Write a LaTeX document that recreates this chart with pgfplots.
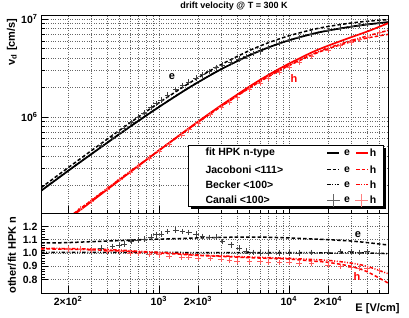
\documentclass[border=0pt]{standalone}
\usepackage{pgfplots}
\pgfplotsset{compat=1.18}
\usepackage{fontspec}
\setmainfont{Liberation Sans}
\tikzset{
  dashJ/.style={dash pattern=on 3.5pt off 2.2pt},
  dashB/.style={dash pattern=on 3.5pt off 1.6pt on 1pt off 1.6pt on 1pt off 1.6pt},
}
\pgfplotsset{
  canE/.style={only marks, mark=+, mark size=2.8pt, black!75, mark options={line width=0.55pt}},
  canH/.style={only marks, mark=+, mark size=2.8pt, red!65, mark options={line width=0.55pt}},
}
\begin{document}
\bfseries
\begin{tikzpicture}[x=1pt,y=1pt]
\useasboundingbox (0,0) rectangle (409,317);
% ---------------- top panel
\begin{axis}[scale only axis, width=347pt, height=198pt, at={(41pt,104pt)}, anchor=south west,
  xmode=log, xmin=124, xmax=58000, ymode=log, ymin=1.04e5, ymax=1.1e7,
  tick align=inside, tick pos=left,
  axis line style={black, line width=0.6pt},
  grid style={black!60, dotted, line width=0.45pt},
  major tick length=7pt, minor tick length=3.5pt,
  tick style={black, line width=0.45pt},
  ticklabel style={font=\bfseries\fontsize{10.5}{11}\selectfont},
  xtick={200,1000,2000,10000,20000}, xticklabels={},
  minor xtick={300,400,500,600,700,800,900,3000,4000,5000,6000,7000,8000,9000,30000,40000,50000},
  ytick={1e6,1e7}, yticklabels={10\textsuperscript{6},10\textsuperscript{7}},
  minor ytick={2e5,3e5,4e5,5e5,6e5,7e5,8e5,9e5,2e6,3e6,4e6,5e6,6e6,7e6,8e6,9e6},
  xmajorgrids, xminorgrids, ymajorgrids, yminorgrids]
% Canali e
\addplot[canE] coordinates {(360,5.0842e5)(440,6.2243e5)(495,7.0045e5)(540,7.6804e5)(610,8.7375e5)(690,9.8963e5)(770,1.09769e6)(870,1.24199e6)(950,1.36598e6)(1040,1.48902e6)(1170,1.67386e6)(1350,1.91236e6)(1520,2.09531e6)(1700,2.27865e6)(1930,2.50417e6)(2170,2.69496e6)(2430,2.91392e6)(2750,3.20445e6)(3100,3.39412e6)(3600,3.65555e6)(4150,3.91600e6)(4700,4.15675e6)(5300,4.42552e6)(6000,4.71465e6)(7000,5.13229e6)(8500,5.61537e6)(10000,6.05373e6)(12000,6.47067e6)(15000,7.05581e6)(20000,7.66285e6)(25000,8.09239e6)(30000,8.42775e6)(35000,8.62715e6)(40000,8.88594e6)(50000,9.09913e6)};
% Canali h
\addplot[canH] coordinates {(200,92538)(250,115731)(300,137560)(400,183025)(500,228137)(600,271350)(700,315158)(850,380655)(1000,446380)(1200,529490)(1500,654719)(1700,738100)(2000,859890)(2500,1056300)(3000,1245986)(3500,1413250)(4000,1582020)(5000,1920821)(6000,2221560)(7000,2508216)(8500,2884700)(10000,3241382)(12000,3639900)(15000,4187859)(20000,4850681)(25000,5350500)(30000,5785791)(35000,6198400)(40000,6584565)(50000,7285800)};
% Becker e
\addplot[black, line width=1.5pt, dashB, smooth] coordinates {(124,1.75908e5)(150,2.12087e5)(200,2.80934e5)(300,4.14634e5)(500,6.72366e5)(700,9.17111e5)(1000,1.26430e6)(1500,1.79015e6)(2000,2.25972e6)(3000,3.06557e6)(5000,4.27663e6)(7000,5.14769e6)(10000,6.07189e6)(15000,7.03475e6)(20000,7.62473e6)(30000,8.34431e6)(40000,8.79796e6)(58000,9.25839e6)};
% Becker h
\addplot[red, line width=1.5pt, dashB, smooth] coordinates {(124,57630)(150,69678)(200,92808)(300,138909)(500,230847)(700,320860)(1000,454520)(1500,671593)(2000,879535)(3000,1275994)(5000,1988470)(7000,2597026)(10000,3353154)(15000,4333524)(20000,5037246)(30000,6013322)(40000,6696167)(58000,7655744)};
% Jacoboni e
\addplot[black, line width=1.5pt, dashJ, smooth] coordinates {(124,1.8816e5)(150,2.2707e5)(200,3.0134e5)(300,4.4764e5)(500,7.3124e5)(700,1.00289e6)(1000,1.38884e6)(1500,1.97835e6)(2000,2.50755e6)(3000,3.41400e6)(5000,4.7755e6)(7000,5.7379e6)(10000,6.7378e6)(15000,7.7649e6)(20000,8.3872e6)(30000,9.0953e6)(40000,9.4842e6)(58000,9.8632e6)};
% Jacoboni h
\addplot[red, line width=1.5pt, dashJ, smooth] coordinates {(124,57351)(150,69342)(200,92359)(300,138235)(500,229266)(700,319276)(1000,452259)(1500,668218)(2000,876856)(3000,1272080)(5000,1978220)(7000,2583570)(10000,3335690)(15000,4278900)(20000,4957290)(30000,5850800)(40000,6398560)(58000,6976240)};
% fit HPK e
\addplot[black, line width=1.7pt, smooth] coordinates {(124,1.75033e5)(150,2.11032e5)(200,2.79536e5)(300,4.12571e5)(500,6.69021e5)(700,9.12548e5)(1000,1.25801e6)(1500,1.78390e6)(2000,2.25296e6)(3000,3.05640e6)(5000,4.26384e6)(7000,5.13229e6)(10000,6.05373e6)(15000,7.02071e6)(20000,7.62473e6)(30000,8.34431e6)(40000,8.79796e6)(58000,9.30491e6)};
% fit HPK h
\addplot[red, line width=1.7pt, smooth] coordinates {(124,55681)(150,67322)(200,89843)(300,134863)(500,225878)(700,316742)(1000,452259)(1500,674968)(2000,892929)(3000,1304697)(5000,2049969)(7000,2691219)(10000,3492869)(15000,4552021)(20000,5330419)(30000,6500889)(40000,7440186)(58000,9060052)};
\end{axis}
% ---------------- bottom panel
\begin{axis}[scale only axis, width=347pt, height=80pt, at={(41pt,24pt)}, anchor=south west,
  xmode=log, xmin=124, xmax=58000, ymin=0.7, ymax=1.3,
  tick align=inside, tick pos=left,
  axis line style={black, line width=0.6pt},
  grid style={black!60, dotted, line width=0.45pt},
  major tick length=7pt, minor tick length=3.5pt,
  tick style={black, line width=0.45pt},
  ticklabel style={font=\bfseries\fontsize{10.5}{11}\selectfont},
  xtick={200,1000,2000,10000,20000},
  xticklabels={2\texttimes10\textsuperscript{2},10\textsuperscript{3},2\texttimes10\textsuperscript{3},10\textsuperscript{4},2\texttimes10\textsuperscript{4}},
  minor xtick={300,400,500,600,700,800,900,3000,4000,5000,6000,7000,8000,9000,30000,40000,50000},
  ytick={0.8,0.9,1.0,1.1,1.2}, yticklabels={0.8,0.9,1.0,1.1,1.2},
  minor y tick num=4,
  xmajorgrids, xminorgrids, ymajorgrids]
\addplot[canE] coordinates {(360,1.037)(440,1.05)(495,1.057)(540,1.069)(610,1.087)(690,1.099)(770,1.104)(870,1.119)(950,1.137)(1040,1.144)(1170,1.162)(1350,1.174)(1520,1.162)(1700,1.154)(1930,1.144)(2170,1.125)(2430,1.117)(2750,1.119)(3100,1.087)(3600,1.062)(4150,1.037)(4700,1.015)(5300,1.005)(6000,1.0)(7000,1.0)(8500,1.0)(10000,1.0)(12000,1.0)(15000,1.005)(20000,1.005)(25000,1.01)(30000,1.01)(35000,1.005)(40000,1.01)(50000,1.0)};
\addplot[canH] coordinates {(200,1.03)(250,1.03)(300,1.02)(400,1.015)(500,1.01)(600,1.0)(700,0.995)(850,0.99)(1000,0.987)(1200,0.978)(1500,0.97)(1700,0.968)(2000,0.963)(2500,0.96)(3000,0.955)(3500,0.945)(4000,0.94)(5000,0.937)(6000,0.935)(7000,0.932)(8500,0.93)(10000,0.928)(12000,0.925)(15000,0.92)(20000,0.91)(25000,0.9)(30000,0.89)(35000,0.887)(40000,0.885)(50000,0.87)};
\addplot[black, line width=1.5pt, dashB, smooth] coordinates {(124,1.005)(1000,1.005)(2000,1.003)(10000,1.003)(15000,1.002)(20000,1.0)(40000,1.0)(58000,0.995)};
\addplot[red, line width=1.5pt, dashB, smooth] coordinates {(124,1.035)(150,1.035)(200,1.033)(300,1.03)(500,1.022)(700,1.013)(1000,1.005)(1500,0.995)(2000,0.985)(3000,0.978)(5000,0.97)(7000,0.965)(10000,0.96)(15000,0.952)(20000,0.945)(30000,0.925)(40000,0.90)(58000,0.845)};
\addplot[black, line width=1.5pt, dashJ, smooth] coordinates {(124,1.075)(150,1.076)(200,1.078)(300,1.085)(500,1.093)(700,1.099)(1000,1.104)(1500,1.109)(2000,1.113)(3000,1.117)(5000,1.12)(7000,1.118)(10000,1.113)(15000,1.106)(20000,1.10)(30000,1.09)(40000,1.078)(58000,1.06)};
\addplot[red, line width=1.5pt, dashJ, smooth] coordinates {(124,1.03)(150,1.03)(200,1.028)(300,1.025)(500,1.015)(700,1.008)(1000,1.0)(1500,0.99)(2000,0.982)(3000,0.975)(5000,0.965)(7000,0.96)(10000,0.955)(15000,0.94)(20000,0.93)(30000,0.90)(40000,0.86)(58000,0.775)};
\end{axis}
% ---------------- texts
\node[font=\bfseries\fontsize{9}{10}\selectfont] at (234,310.5) {drift velocity @ T = 300 K};
\node[rotate=90, anchor=east, font=\bfseries\fontsize{11}{12}\selectfont] at (12,302) {v\textsubscript{d} [cm/s]};
\node[rotate=90, anchor=east, font=\bfseries\fontsize{11}{12}\selectfont] at (12,104) {other/fit HPK n};
\node[anchor=east, font=\bfseries\fontsize{11}{12}\selectfont] at (403,8) {E [V/cm]};
\node[font=\bfseries\fontsize{11}{12}\selectfont] at (172,240) {e};
\node[red, font=\bfseries\fontsize{11}{12}\selectfont] at (294,238) {h};
\node[font=\bfseries\fontsize{11}{12}\selectfont] at (358,82) {e};
\node[red, font=\bfseries\fontsize{11}{12}\selectfont] at (357,40) {h};
% ---------------- legend
\fill[black] (191,108) rectangle (386,169);
\filldraw[fill=white, draw=black, line width=0.5pt] (188,111) rectangle (383,172);
\begin{scope}[font=\bfseries\fontsize{10.5}{11}\selectfont]
\foreach \yy/\txt in {164.3/fit HPK n-type, 147.7/Jacoboni <111>, 132.7/Becker <100>, 117/Canali <100>}{
  \node[anchor=west] at (202,\yy) {\txt};
  \node at (347,\yy) {e};
  \node at (373,\yy) {h};
}
\draw[black, line width=1.6pt] (327,164.3) -- (339,164.3);
\draw[red, line width=1.6pt] (356,164.3) -- (368,164.3);
\draw[black, line width=1.5pt, dashJ] (327,147.7) -- (339,147.7);
\draw[red, line width=1.5pt, dashJ] (356,147.7) -- (368,147.7);
\draw[black, line width=1.5pt, dashB] (327,132.7) -- (339,132.7);
\draw[red, line width=1.5pt, dashB] (356,132.7) -- (368,132.7);
\draw[black!60, line width=0.7pt] (327,117) -- (340,117) (333.5,110.5) -- (333.5,123.5);
\draw[red!50, line width=0.7pt] (355,117) -- (368,117) (361.5,110.5) -- (361.5,123.5);
\end{scope}
\end{tikzpicture}
\end{document}
